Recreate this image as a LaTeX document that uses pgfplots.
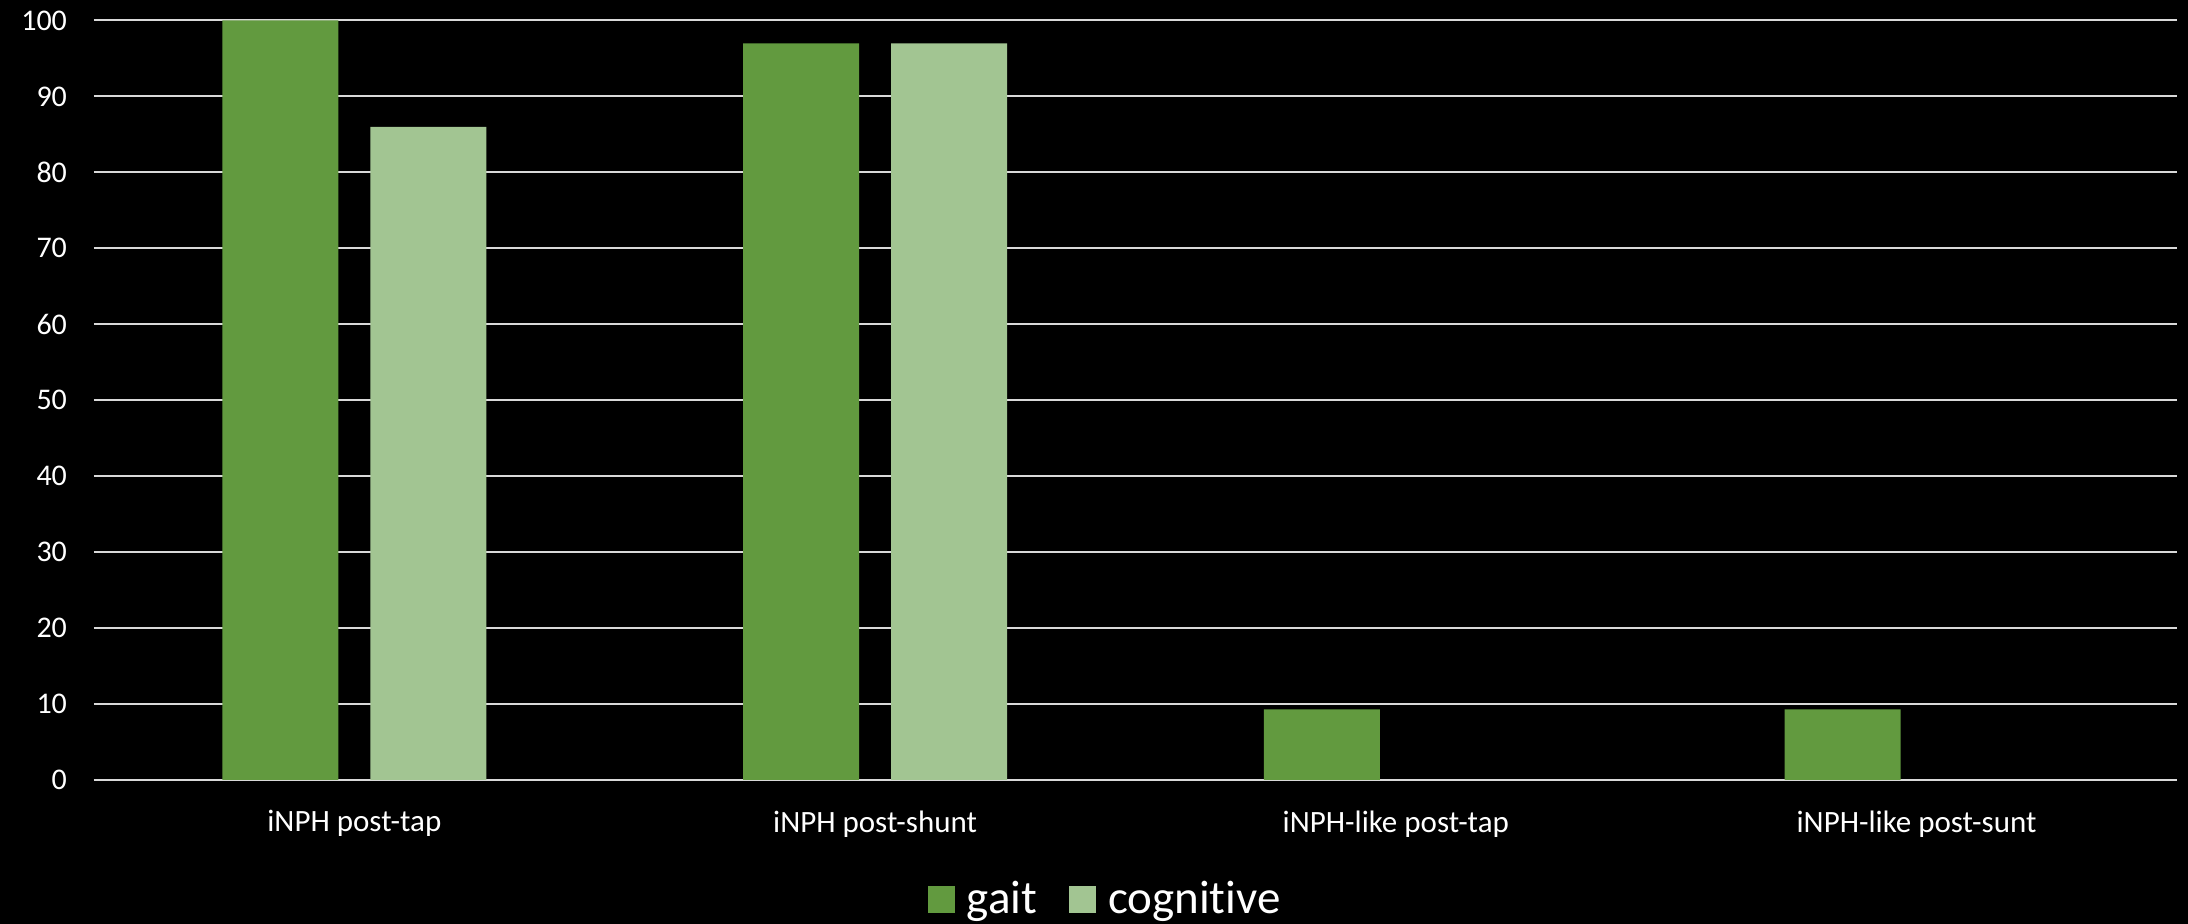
\documentclass[border=0pt]{standalone}
\usepackage{pgfplots}
\pgfplotsset{compat=1.18}
\usepackage{fontspec}
\setmainfont[Ligatures={NoCommon,NoContextual},Contextuals=NoAlternate]{Carlito}
\definecolor{gaitc}{HTML}{629A3F}
\definecolor{cogc}{HTML}{A2C592}
\definecolor{gridc}{HTML}{D9D9D9}
\begin{document}
\begin{tikzpicture}
\useasboundingbox (0,0) rectangle (1094pt,462pt);
\fill[black] (0,0) rectangle (1094pt,462pt);
\begin{axis}[
  at={(47pt,72pt)}, anchor=south west,
  scale only axis,
  width=1041.5pt, height=379.75pt,
  xmin=-0.5, xmax=3.5, ymin=0, ymax=100,
  ybar, bar width=58pt, ybar=16pt,
  axis lines*=left,
  y axis line style={draw=none},
  x axis line style={draw=gridc, line width=1pt},
  xtick={0,1,2,3},
  xticklabels={iNPH post-tap, iNPH post-shunt, iNPH-like post-tap, iNPH-like post-sunt},
  x tick style={draw=none},
  extra x ticks={-0.5,0.5,1.5,2.5,3.5},
  extra x tick labels={},
  extra x tick style={major tick length=5.5pt, tick align=outside, tick style={draw=gridc, line width=1pt}, grid=none},
  xticklabel shift=7.5pt,
  ytick={0,10,...,100},
  y tick style={draw=none},
  ymajorgrids,
  grid style={draw=gridc, line width=1pt},
  yticklabel shift=10pt,
  /pgf/number format/assume math mode=true,
  tick label style={text=white, font=\fontsize{15}{18}\selectfont},
  xticklabel style={font=\fontsize{15.5}{18}\selectfont},
  legend style={at={(0.486,-0.157)}, anchor=center, draw=none, fill=black, text=white,
    font=\fontsize{23.5}{28}\selectfont, legend columns=2,
    /tikz/every odd column/.append style={column sep=4pt},
    /tikz/every even column/.append style={column sep=14pt}},
  legend image code/.code={\fill[#1] (0pt,-6.75pt) rectangle (13.5pt,6.75pt);},
]
\addplot[fill=gaitc, draw=none] coordinates {(0,100) (1,97) (2,9.3) (3,9.3)};
\addplot[fill=cogc, draw=none] coordinates {(0,86) (1,97)};
\legend{gait, cognitive}
\end{axis}
\end{tikzpicture}
\end{document}
